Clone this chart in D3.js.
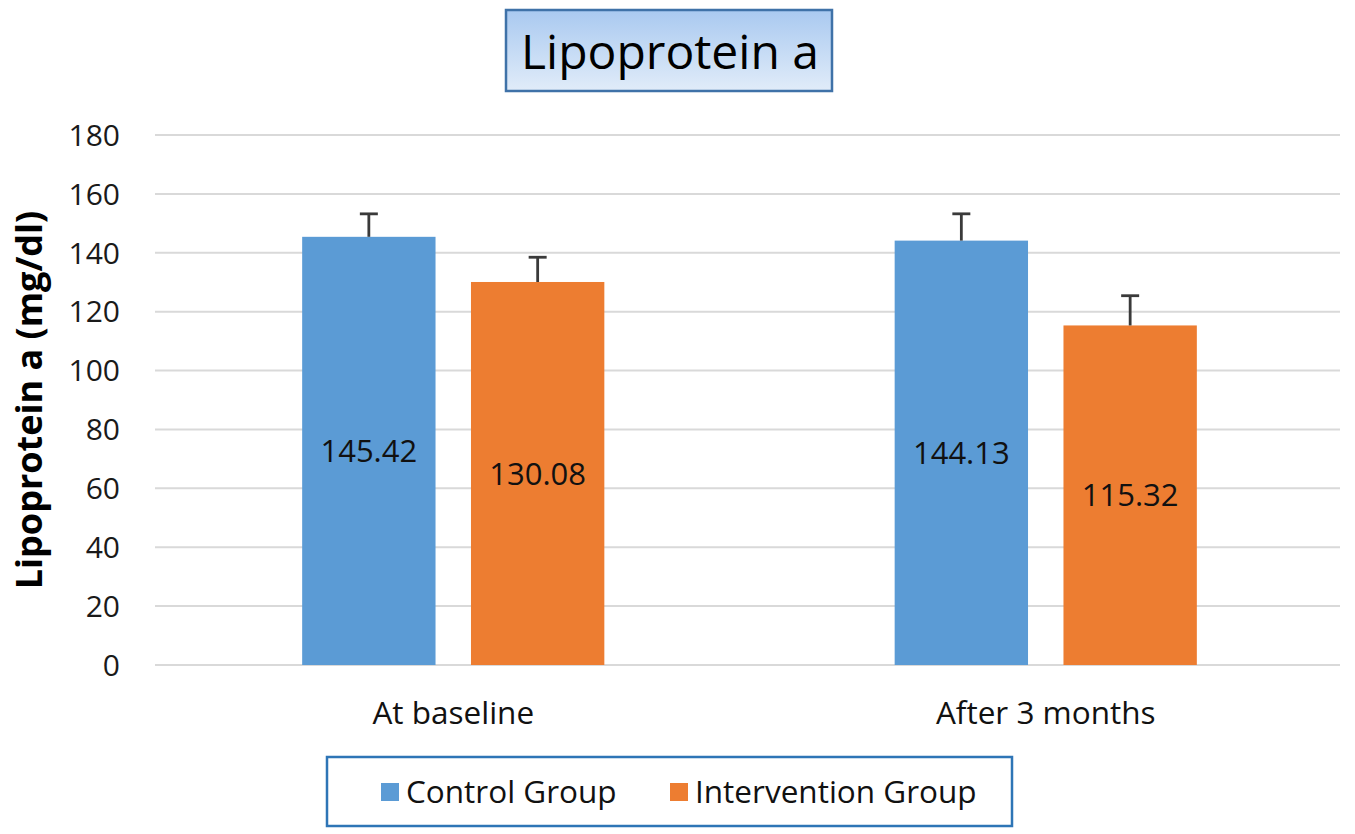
<!DOCTYPE html>
<html><head><meta charset="utf-8">
<script src="https://cdn.jsdelivr.net/npm/d3@7"></script>
<style>body{margin:0;background:#fff;} svg{display:block;font-family:"Open Sans",sans-serif;}</style>
</head><body>
<svg id="chart" width="1355" height="834"></svg>
<script>
const title = "Lipoprotein a";
const yLabel = "Lipoprotein a (mg/dl)";
const categories = ["At baseline", "After 3 months"];
const seriesNames = ["Control Group", "Intervention Group"];
const controlValues = [145.42, 144.13];
const interventionValues = [130.08, 115.32];
const controlErrors = [7.8, 9.1];
const interventionErrors = [8.4, 10.1];
const yTicks = [0, 20, 40, 60, 80, 100, 120, 140, 160, 180];
const colors = ["#5b9bd5", "#ed7d31"];

const svg = d3.select("#chart");
const margin = {left: 157, right: 13, top: 135, bottom: 169};
const W = 1355, H = 834;
const x0 = d3.scaleBand().domain(categories).range([margin.left, W - margin.right]).paddingInner(0.49).paddingOuter(0.245);
const x1 = d3.scaleBand().domain(seriesNames).range([0, x0.bandwidth()]).paddingInner(0.21);
const y = d3.scaleLinear().domain([0, 180]).range([H - margin.bottom, margin.top]);

// gridlines
svg.append("g").selectAll("line").data(yTicks).join("line")
  .attr("x1", 155).attr("x2", 1340)
  .attr("y1", d => y(d)).attr("y2", d => y(d))
  .attr("stroke", "#d9d9d9").attr("stroke-width", 2);

// y tick labels
svg.append("g").selectAll("text").data(yTicks).join("text")
  .attr("x", 120).attr("y", d => y(d)).attr("dy", "0.36em")
  .attr("text-anchor", "end").attr("font-size", 30).attr("fill", "#1a1a1a")
  .text(d => d);

const data = categories.map((c, i) => ({
  cat: c,
  vals: [
    {s: seriesNames[0], v: controlValues[i], e: controlErrors[i], c: colors[0]},
    {s: seriesNames[1], v: interventionValues[i], e: interventionErrors[i], c: colors[1]}
  ]
}));

const groups = svg.append("g").selectAll("g").data(data).join("g")
  .attr("transform", d => `translate(${x0(d.cat)},0)`);

groups.selectAll("rect").data(d => d.vals).join("rect")
  .attr("x", d => x1(d.s)).attr("width", x1.bandwidth())
  .attr("y", d => y(d.v)).attr("height", d => y(0) - y(d.v))
  .attr("fill", d => d.c);

// error bars
const eb = groups.selectAll("g.eb").data(d => d.vals).join("g").attr("class", "eb");
eb.append("line")
  .attr("x1", d => x1(d.s) + x1.bandwidth() / 2).attr("x2", d => x1(d.s) + x1.bandwidth() / 2)
  .attr("y1", d => y(d.v)).attr("y2", d => y(d.v + d.e))
  .attr("stroke", "#3a3a3a").attr("stroke-width", 2.8);
eb.append("line")
  .attr("x1", d => x1(d.s) + x1.bandwidth() / 2 - 9).attr("x2", d => x1(d.s) + x1.bandwidth() / 2 + 9)
  .attr("y1", d => y(d.v + d.e)).attr("y2", d => y(d.v + d.e))
  .attr("stroke", "#3a3a3a").attr("stroke-width", 2.8);

// value labels
groups.selectAll("text.val").data(d => d.vals).join("text").attr("class", "val")
  .attr("x", d => x1(d.s) + x1.bandwidth() / 2).attr("y", d => y(d.v / 2)).attr("dy", "0.36em")
  .attr("text-anchor", "middle").attr("font-size", 31).attr("fill", "#111")
  .text(d => d.v.toFixed(2));

// category labels
svg.append("g").selectAll("text").data(categories).join("text")
  .attr("x", d => x0(d) + x0.bandwidth() / 2).attr("y", 713).attr("dy", "0.36em")
  .attr("text-anchor", "middle").attr("font-size", 31.5).attr("fill", "#111")
  .text(d => d);

// y axis label
svg.append("text")
  .attr("transform", "translate(29,400) rotate(-90)")
  .attr("text-anchor", "middle").attr("dy", "0.36em")
  .attr("font-size", 36).attr("font-weight", "bold").attr("fill", "#000")
  .text(yLabel);

// title box
const defs = svg.append("defs");
const grad = defs.append("linearGradient").attr("id", "tg").attr("x1", 0).attr("x2", 0).attr("y1", 0).attr("y2", 1);
grad.append("stop").attr("offset", "0%").attr("stop-color", "#a9c9f0");
grad.append("stop").attr("offset", "100%").attr("stop-color", "#e1ecf9");
svg.append("rect").attr("x", 506).attr("y", 10).attr("width", 326).attr("height", 81)
  .attr("fill", "url(#tg)").attr("stroke", "#3f72a8").attr("stroke-width", 2.5);
svg.append("text").attr("x", 670).attr("y", 52).attr("dy", "0.36em")
  .attr("text-anchor", "middle").attr("font-size", 48).attr("fill", "#000")
  .text(title);

// legend
svg.append("rect").attr("x", 327).attr("y", 757).attr("width", 685).attr("height", 69)
  .attr("fill", "#fff").attr("stroke", "#2e75b6").attr("stroke-width", 2.5);
const legX = [381, 670];
const leg = svg.append("g").selectAll("g").data(seriesNames).join("g")
  .attr("transform", (d, i) => `translate(${legX[i]},792)`);
leg.append("rect").attr("x", 0).attr("y", -9).attr("width", 18).attr("height", 18)
  .attr("fill", (d, i) => colors[i]);
leg.append("text").attr("x", 25).attr("y", 0).attr("dy", "0.36em")
  .attr("font-size", 31.5).attr("fill", "#111").text(d => d);
</script>
</body></html>
